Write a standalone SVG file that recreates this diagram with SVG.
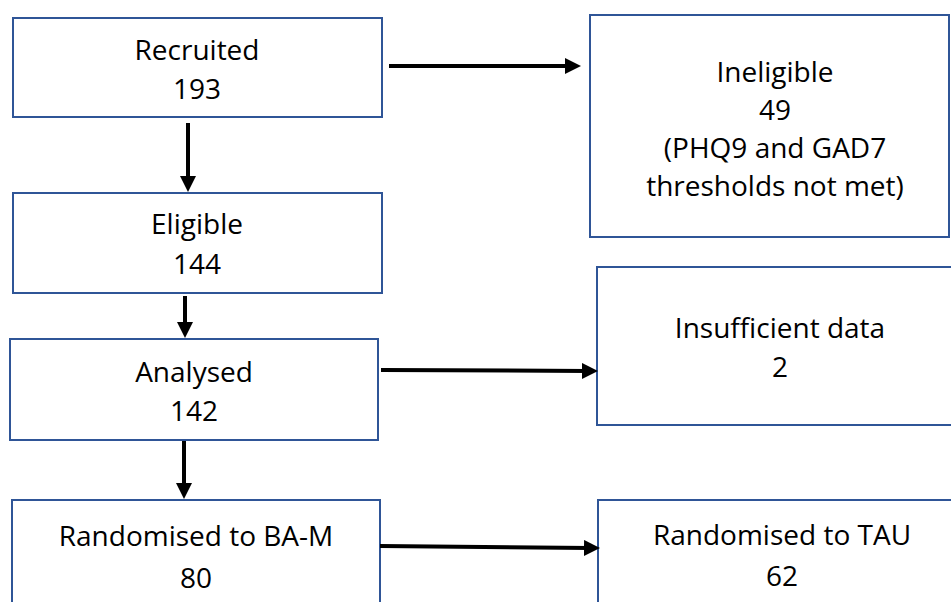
<svg xmlns="http://www.w3.org/2000/svg" width="951" height="602" viewBox="0 0 951 602">
<style>
.box{fill:#fff;stroke:#2F5597;stroke-width:2}
.t{font-family:"Open Sans","Noto Sans",sans-serif;font-size:28px;fill:#000;text-anchor:middle}
.c{stroke:#000;stroke-width:4;fill:none}
</style>
<defs>
<marker id="ah" viewBox="0 0 16 16" refX="6" refY="8" markerWidth="16" markerHeight="16" markerUnits="userSpaceOnUse" orient="auto">
<path d="M0,0 L16,8 L0,16 z" fill="#000"/>
</marker>
</defs>
<rect width="951" height="602" fill="#fff"/>
<g id="recruited">
<rect class="box" x="13" y="18" width="369" height="99"/>
<text class="t" x="197" y="60">Recruited</text>
<text class="t" x="197" y="99">193</text>
</g>
<g id="eligible">
<rect class="box" x="13" y="193" width="369" height="100"/>
<text class="t" x="197" y="234">Eligible</text>
<text class="t" x="197" y="274">144</text>
</g>
<g id="analysed">
<rect class="box" x="10" y="339" width="368" height="101"/>
<text class="t" x="194" y="382">Analysed</text>
<text class="t" x="194" y="421">142</text>
</g>
<g id="bam">
<rect class="box" x="12" y="500" width="368" height="120"/>
<text class="t" x="196" y="546">Randomised to BA-M</text>
<text class="t" x="196" y="588">80</text>
</g>
<g id="ineligible">
<rect class="box" x="590" y="15" width="359" height="222"/>
<text class="t" x="775" y="82">Ineligible</text>
<text class="t" x="775" y="120">49</text>
<text class="t" x="775" y="158">(PHQ9 and GAD7</text>
<text class="t" x="775" y="196">thresholds not met)</text>
</g>
<g id="insufficient">
<rect class="box" x="597" y="267" width="370" height="158"/>
<text class="t" x="780" y="338">Insufficient data</text>
<text class="t" x="780" y="377">2</text>
</g>
<g id="tau">
<rect class="box" x="598" y="500" width="370" height="120"/>
<text class="t" x="782" y="545">Randomised to TAU</text>
<text class="t" x="782" y="586">62</text>
</g>
<g id="connectors">
<path class="c" d="M389,66 L571,66" marker-end="url(#ah)"/>
<path class="c" d="M188,123 L188,182" marker-end="url(#ah)"/>
<path class="c" d="M185,296 L185,328" marker-end="url(#ah)"/>
<path class="c" d="M381,370 L588,371" marker-end="url(#ah)"/>
<path class="c" d="M184,441 L184,489" marker-end="url(#ah)"/>
<path class="c" d="M380,546 L590,548" marker-end="url(#ah)"/>
</g>
</svg>
